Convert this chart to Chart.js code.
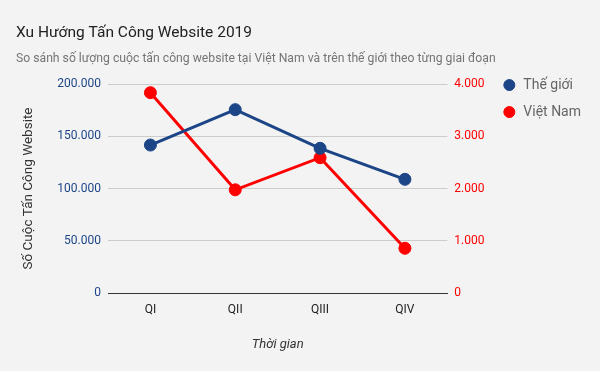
<!DOCTYPE html>
<html>
<head>
<meta charset="utf-8">
<script src="https://cdn.jsdelivr.net/npm/chart.js@4/dist/chart.umd.min.js"></script>
<style>
body{margin:0;background:#f3f3f3}
#wrap{width:600px;height:371px}
</style>
</head>
<body>
<div id="wrap"><canvas id="chart" width="600" height="371"></canvas></div>
<script>

let quarters=["QI","QII","QIII","QIV"]
let worldAttacks=[141600,175500,138500,108800]
let vnAttacks=[3835,1975,2590,856]

let worldLabel="Thế giới"
let vnLabel="Việt Nam"

function dots(v){
return Number(v).toLocaleString("en-US").replace(/,/g,".")
}

// legend sits at chart top, pull it up to line up with the first row
let legendShift={
id:"legendShift",
afterLayout(chart){
chart.legend.top-=19
chart.legend.bottom-=19
}
}

Chart.defaults.font.family="Roboto"

new Chart(document.getElementById("chart"),{

type:"line",

data:{
labels:quarters,
datasets:[
{label:worldLabel,data:worldAttacks,yAxisID:"y",borderColor:"#1c4587",backgroundColor:"#1c4587",borderWidth:3,pointRadius:6,pointHoverRadius:6,pointBorderWidth:1,tension:0},
{label:vnLabel,data:vnAttacks,yAxisID:"y1",borderColor:"#ff0000",backgroundColor:"#ff0000",borderWidth:3,pointRadius:6,pointHoverRadius:6,pointBorderWidth:1,tension:0}
]
},

options:{
responsive:false,
animation:false,
layout:{padding:{left:16,right:16,top:0,bottom:0}},
plugins:{
title:{display:true,text:"Xu Hướng Tấn Công Website 2019",align:"start",color:"#212121",font:{size:15.5,weight:"normal"},padding:{top:24,bottom:0}},
subtitle:{display:true,text:"So sánh số lượng cuộc tấn công website tại Việt Nam và trên thế giới theo từng giai đoạn",align:"start",color:"#757575",font:{size:12.2},padding:{top:9.4,bottom:17.4}},
legend:{position:"right",align:"start",fullSize:false,labels:{usePointStyle:true,pointStyle:"circle",boxWidth:14,boxHeight:7.8,padding:13,color:"#666666",font:{size:14}}},
tooltip:{enabled:false}
},
scales:{
x:{
offset:true,
grid:{display:false,drawTicks:false},
border:{display:true,color:"#333333",width:1},
ticks:{color:"#222222",font:{size:12},padding:10},
title:{display:true,text:"Thời gian",color:"#333333",font:{size:13,style:"italic"},padding:{top:0,bottom:18}},
afterFit(scale){scale.height=78}
},
y:{
position:"left",
min:0,max:200000,
grid:{color:"#cccccc",drawTicks:false},
border:{display:false},
ticks:{stepSize:50000,color:"#1c4587",font:{size:12},padding:7,callback:v=>dots(v)},
title:{display:true,text:"Số Cuộc Tấn Công Website",color:"#333333",font:{size:13.5},padding:{top:5,bottom:0}},
afterFit(scale){scale.width=92}
},
y1:{
position:"right",
min:0,max:4000,
grid:{display:false,drawTicks:false},
border:{display:false},
ticks:{stepSize:1000,color:"#ff0000",font:{size:12},padding:7,callback:v=>dots(v)},
afterFit(scale){scale.width=42}
}
}
},

plugins:[legendShift]

})

</script>
</body>
</html>
